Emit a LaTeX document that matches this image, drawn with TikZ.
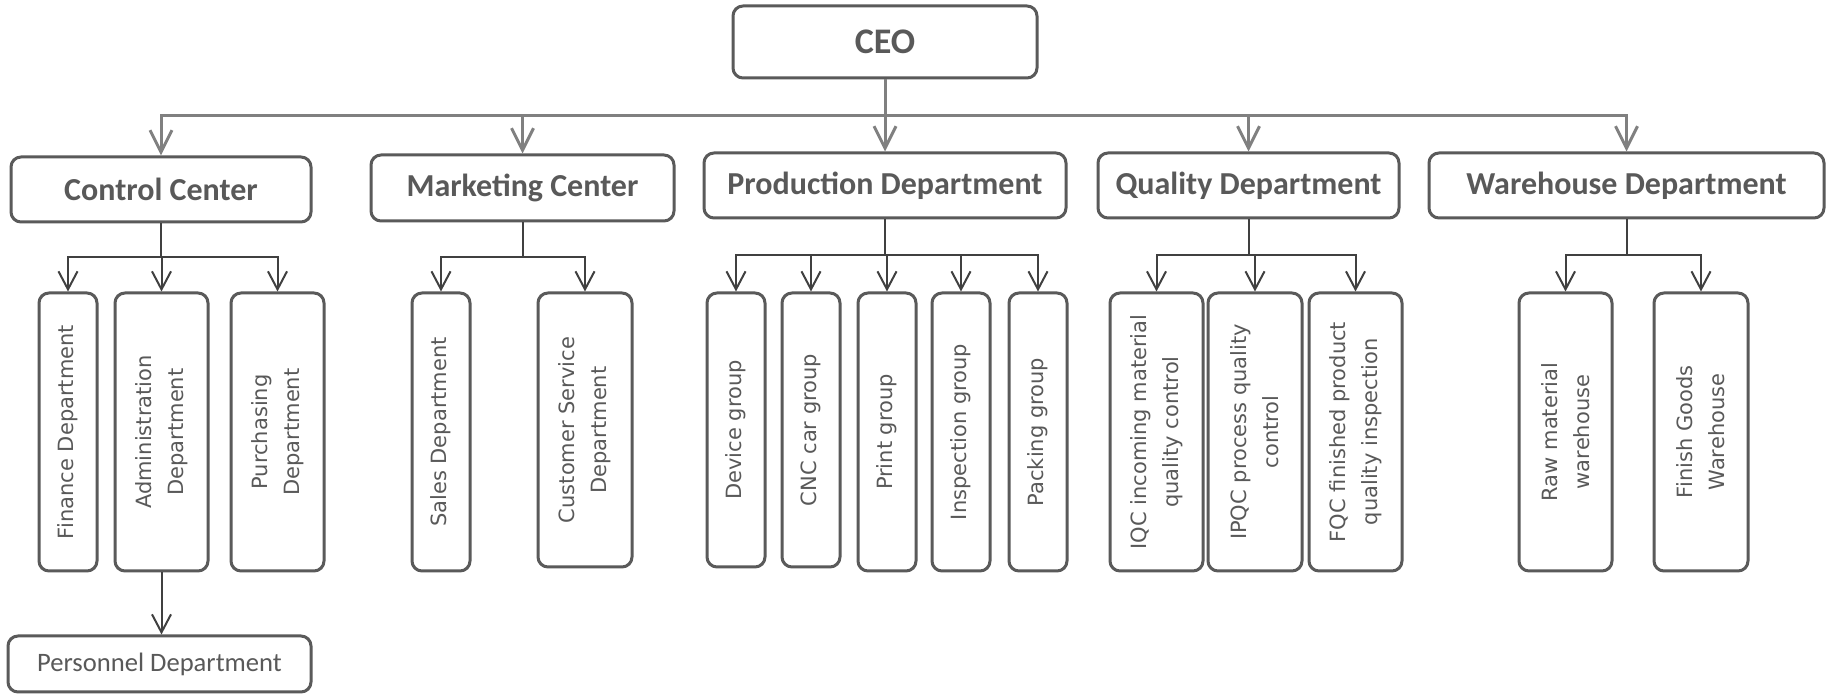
\documentclass[tikz,border=0pt]{standalone}
\usepackage{fontspec}
\setmainfont{Carlito}
\newfontfamily\vfont{DejaVu Sans}
\usetikzlibrary{arrows.meta}
\definecolor{txt}{HTML}{595959}
\definecolor{brd}{HTML}{5A5A5A}
\definecolor{topc}{HTML}{808080}
\definecolor{subc}{HTML}{404040}
\newcommand\hbx[7][head]{\node[#1, minimum width={(#5-#3)*0.5pt}, minimum height={(#6-#4)*0.5pt}] (#2) at ({(#3+#5)/2},{(#4+#6)/2}) {#7};}
\newcommand\vbx[6]{\node[vbox, minimum width={(#5-#3)*0.5pt}, minimum height={(#4-#2)*0.5pt}] (#1) at ({(#2+#4)/2},{(#3+#5)/2}) {#6};}
\begin{document}
\begin{tikzpicture}[x=0.5pt,y=-0.5pt,
 box/.style={draw=brd, line width=1.5pt, rounded corners=5pt, fill=white, text=txt, inner sep=0pt, align=center},
 head/.style={box, font=\bfseries\fontsize{16}{19}\selectfont},
 ceobox/.style={box, font=\bfseries\fontsize{18}{21}\selectfont},
 pbox/.style={box, font=\fontsize{13.3}{15}\selectfont},
 vbox/.style={box, rotate=90, font=\vfont\fontsize{10.5}{16}\selectfont},
 topline/.style={draw=topc, line width=1.5pt},
 toparrow/.style={topline, -{Straight Barb[length=11pt,width=11pt]}},
 subline/.style={draw=subc, line width=1pt},
 subarrow/.style={subline, -{Straight Barb[length=9pt,width=9.5pt]}},
]
\fill[white] (0,0) rectangle (1832,694);
\useasboundingbox (0,0) rectangle (1832,694);

% top level
\hbx[ceobox]{ceo}{733}{6}{1037}{78}{CEO}
\hbx{cc}{11}{157}{311}{222}{Control Center}
\hbx{mc}{371}{155}{674}{221}{Marketing Center}
\hbx{pd}{704}{153}{1066}{218}{Production Department}
\hbx{qd}{1098}{153}{1399}{218}{Quality Department}
\hbx{wd}{1429}{153}{1824}{218}{Warehouse Department}

% control center children
\vbx{fin}{39}{293}{97}{571}{Finance Department}
\vbx{adm}{115}{293}{208}{571}{Administration\\Department}
\vbx{pur}{231}{293}{324}{571}{Purchasing\\Department}
\hbx[pbox]{pers}{8}{636}{311}{692}{Personnel Department}

% marketing children
\vbx{sal}{412}{293}{470}{571}{Sales Department}
\vbx{cus}{538}{293}{632}{567}{Customer Service\\Department}

% production children
\vbx{dev}{707}{293}{765}{567}{Device group}
\vbx{cnc}{782}{293}{840}{567}{CNC car group}
\vbx{pri}{858}{293}{916}{571}{Print group}
\vbx{ins}{932}{293}{990}{571}{Inspection group}
\vbx{pac}{1009}{293}{1067}{571}{Packing group}

% quality children
\vbx{iqc}{1110}{293}{1203}{571}{IQC incoming material\\quality control}
\vbx{ipqc}{1208}{293}{1302}{571}{IPQC process quality\\control}
\vbx{fqc}{1309}{293}{1402}{571}{FQC finished product\\quality inspection}

% warehouse children
\vbx{raw}{1519}{293}{1612}{571}{Raw material\\warehouse}
\vbx{fgw}{1654}{293}{1748}{571}{Finish Goods\\Warehouse}

% top connectors
\coordinate (bus) at (885,116);
\draw[topline] (ceo.south) -- (bus);
\foreach \n in {cc,mc,pd,qd,wd} \draw[toparrow] (bus) -| (\n.north);

% sub connectors
\draw[subline] (cc.south) -- (cc.south |- 0,257) coordinate (ccj);
\foreach \n in {fin,adm,pur} \draw[subarrow] (ccj) -| (\n.east);
\draw[subline] (mc.south) -- (mc.south |- 0,257) coordinate (mcj);
\foreach \n in {sal,cus} \draw[subarrow] (mcj) -| (\n.east);
\draw[subline] (pd.south) -- (pd.south |- 0,255) coordinate (pdj);
\foreach \n in {dev,cnc,pri,ins,pac} \draw[subarrow] (pdj) -| (\n.east);
\draw[subline] (qd.south) -- (qd.south |- 0,255) coordinate (qdj);
\foreach \n in {iqc,ipqc,fqc} \draw[subarrow] (qdj) -| (\n.east);
\draw[subline] (wd.south) -- (wd.south |- 0,255) coordinate (wdj);
\foreach \n in {raw,fgw} \draw[subarrow] (wdj) -| (\n.east);
\draw[subarrow] (adm.west) -- (adm.west |- pers.north);
\end{tikzpicture}
\end{document}
